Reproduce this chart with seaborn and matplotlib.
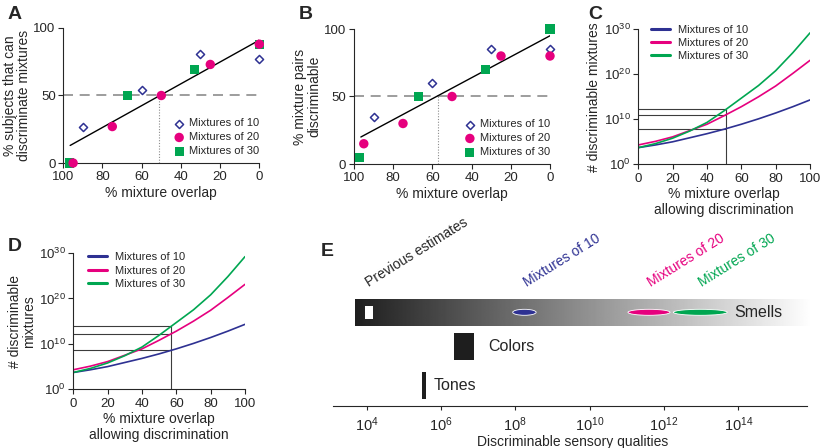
import numpy as np
import matplotlib
matplotlib.use("Agg")
import matplotlib.pyplot as plt
from matplotlib.patches import Ellipse, Rectangle
from matplotlib.ticker import NullLocator
import seaborn as sns

#! ############################ data #############################################

BLUE = "#2e3192"
PINK = "#e6007e"
GREEN = "#00a651"
GREY = "#8c8c8c"

# panel A: % subjects that can discriminate mixtures
a_x10 = [90, 60, 30, 0]
a_y10 = [27, 54, 81, 77]
a_x20 = [95, 75, 50, 25, 0]
a_y20 = [0, 27, 50, 73, 88]
a_x30 = [97, 67, 33, 0]
a_y30 = [0, 50, 69, 88]
a_fit_x = [96.5, 0]
a_fit_y = [13, 91]
a_cut = 51

# panel B: % mixture pairs discriminable
b_x10 = [90, 60, 30, 0]
b_y10 = [35, 60, 85, 85]
b_x20 = [95, 75, 50, 25, 0]
b_y20 = [15, 30, 50, 80, 80]
b_x30 = [97, 67, 33, 0]
b_y30 = [5, 50, 70, 100]
b_fit_x = [96.5, 0]
b_fit_y = [20, 95]
b_cut = 57

# panels C, D: log10(# discriminable mixtures) vs % overlap
overlap = [0, 10, 20, 30, 40, 50, 60, 70, 80, 90, 100]
log_n10 = [3.7, 4.3, 5.0, 5.9, 6.8, 7.8, 8.9, 10.1, 11.4, 12.8, 14.3]
log_n20 = [4.3, 5.1, 6.1, 7.5, 8.9, 10.8, 12.8, 15.0, 17.4, 20.2, 23.1]
log_n30 = [3.7, 4.6, 5.8, 7.4, 9.3, 11.9, 14.7, 17.5, 20.8, 24.8, 29.2]
c_cut = 51
d_cut = 57

# panel E: log10 of discriminable sensory qualities
e_smells = (3.70, 15.97)
e_previous = (3.96, 4.18)
e_colors = (6.35, 6.88)
e_tones = (5.50, 5.59)
e_mix_lo = [7.93, 11.03, 12.25]
e_mix_hi = [8.56, 12.16, 13.70]
e_mix_names = ["Mixtures of 10", "Mixtures of 20", "Mixtures of 30"]
e_ticks = [4, 6, 8, 10, 12, 14]

#! ############################ style #############################################

sns.set_style("ticks")
plt.rcParams["font.family"] = ["Liberation Sans", "DejaVu Sans"]
plt.rcParams["mathtext.fontset"] = "custom"
plt.rcParams["mathtext.rm"] = "Liberation Sans"
plt.rcParams["mathtext.it"] = "Liberation Sans:italic"
plt.rcParams["axes.linewidth"] = 0.8
plt.rcParams["xtick.major.width"] = 0.8
plt.rcParams["ytick.major.width"] = 0.8
plt.rcParams["xtick.major.size"] = 3.5
plt.rcParams["ytick.major.size"] = 3.5
plt.rcParams["xtick.major.pad"] = 2.5
plt.rcParams["ytick.major.pad"] = 2
plt.rcParams["xtick.labelsize"] = 9.5
plt.rcParams["ytick.labelsize"] = 9.5
plt.rcParams["axes.labelsize"] = 10

W, H = 828, 448
fig = plt.figure(figsize=(W / 100, H / 100), dpi=100)


def box(left, top, right, bottom):
    # pixel box -> figure fraction
    return [left / W, 1 - bottom / H, (right - left) / W, (bottom - top) / H]


def overlap_panel(ax, x10, y10, x20, y20, x30, y30, fit_x, fit_y, cut, ylabel):
    ax.axhline(50, color=GREY, lw=1.2, ls=(0, (6, 4)), zorder=1)
    ax.plot([cut, cut], [0, 50], color=GREY, lw=0.8, ls=(0, (1, 1.5)), zorder=1)
    sns.lineplot(x=fit_x, y=fit_y, color="black", lw=1, ax=ax, zorder=2)
    sns.scatterplot(x=x10, y=y10, marker="D", s=17, facecolor="white", edgecolor=BLUE,
                    linewidth=1.1, label="Mixtures of 10", ax=ax, zorder=3, clip_on=False)
    sns.scatterplot(x=x20, y=y20, marker="o", s=46, color=PINK, edgecolor="none",
                    label="Mixtures of 20", ax=ax, zorder=5, clip_on=False)
    sns.scatterplot(x=x30, y=y30, marker="s", s=42, color=GREEN, edgecolor="none",
                    label="Mixtures of 30", ax=ax, zorder=4, clip_on=False)
    ax.set_xlim(100, 0)
    ax.set_ylim(0, 100)
    ax.set_xticks([100, 80, 60, 40, 20, 0])
    ax.set_yticks([0, 50, 100])
    ax.set_xlabel("% mixture overlap", labelpad=2)
    ax.set_ylabel(ylabel, labelpad=2, linespacing=1.0)
    h, l = ax.get_legend_handles_labels()
    ax.legend(h[-3:], l[-3:], loc="lower right", bbox_to_anchor=(1.0, 0.05), frameon=False,
              fontsize=8, borderpad=0, borderaxespad=0, handletextpad=0.3,
              labelspacing=0.35, handlelength=1.2)
    sns.despine(ax=ax)


def count_panel(ax, cut, ylabel, leg_anchor):
    for vals, col, name in [(log_n10, BLUE, "Mixtures of 10"),
                            (log_n20, PINK, "Mixtures of 20"),
                            (log_n30, GREEN, "Mixtures of 30")]:
        sns.lineplot(x=overlap, y=10.0 ** np.array(vals), color=col, lw=1.2, label=name, ax=ax)
    levels = [10.0 ** np.interp(cut, overlap, v) for v in (log_n10, log_n20, log_n30)]
    ax.hlines(levels, 0, cut, color="#3c3c3c", lw=0.8, zorder=1)
    ax.vlines(cut, 1, max(levels), color="#3c3c3c", lw=0.8, zorder=1)
    ax.set_yscale("log")
    ax.set_ylim(1, 1e30)
    ax.set_xlim(0, 100)
    ax.set_yticks([1, 1e10, 1e20, 1e30])
    ax.set_yticklabels(["$10^{0}$", "$10^{10}$", "$10^{20}$", "$10^{30}$"])
    ax.yaxis.set_minor_locator(NullLocator())
    ax.set_xticks([0, 20, 40, 60, 80, 100])
    ax.set_xlabel("% mixture overlap\nallowing discrimination", labelpad=2, linespacing=1.1)
    ax.set_ylabel(ylabel, labelpad=2, linespacing=1.0)
    leg = ax.legend(loc="upper left", bbox_to_anchor=leg_anchor, frameon=False, fontsize=8,
                    borderpad=0, borderaxespad=0, handlelength=1.7, handletextpad=0.7,
                    labelspacing=0.3)
    for line in leg.get_lines():
        line.set_linewidth(2.2)
    sns.despine(ax=ax)


#! ############################ panels A-D #############################################

ax_a = fig.add_axes(box(63.3, 28, 259.3, 163))
overlap_panel(ax_a, a_x10, a_y10, a_x20, a_y20, a_x30, a_y30, a_fit_x, a_fit_y, a_cut,
              "% subjects that can\ndiscriminate mixtures")

ax_b = fig.add_axes(box(354, 29, 550, 164))
overlap_panel(ax_b, b_x10, b_y10, b_x20, b_y20, b_x30, b_y30, b_fit_x, b_fit_y, b_cut,
              "% mixture pairs\ndiscriminable")

ax_c = fig.add_axes(box(638.3, 29.3, 810, 164.3))
count_panel(ax_c, c_cut, "# discriminable mixtures", (0.075, 1.035))

ax_d = fig.add_axes(box(73.3, 253, 245, 389.3))
count_panel(ax_d, d_cut, "# discriminable\nmixtures", (0.085, 1.005))

#! ############################ panel E #############################################

ax_e = fig.add_axes(box(332.7, 229.7, 811.7, 405.7))
ROW_SMELL, ROW_COLOR, ROW_TONE = 93.4, 59.4, 20.0
BAR_H = 27

grad = np.linspace(0.12, 1.0, 512).reshape(1, -1)
ax_e.imshow(grad, cmap="gray", vmin=0, vmax=1, aspect="auto", interpolation="bilinear",
            extent=[e_smells[0], e_smells[1], ROW_SMELL - BAR_H / 2, ROW_SMELL + BAR_H / 2],
            zorder=1, clip_on=False)
ax_e.add_patch(Rectangle((e_previous[0], ROW_SMELL - 6.7), e_previous[1] - e_previous[0], 13.4,
                         facecolor="white", edgecolor="none", zorder=2))
ax_e.add_patch(Rectangle((e_colors[0], ROW_COLOR - BAR_H / 2), e_colors[1] - e_colors[0], BAR_H,
                         facecolor="#1e1e1e", edgecolor="none", zorder=2))
ax_e.add_patch(Rectangle((e_tones[0], ROW_TONE - BAR_H / 2), e_tones[1] - e_tones[0], BAR_H,
                         facecolor="#1e1e1e", edgecolor="none", zorder=2))
for lo, hi, col in zip(e_mix_lo, e_mix_hi, [BLUE, PINK, GREEN]):
    ax_e.add_patch(Ellipse(((lo + hi) / 2, ROW_SMELL), hi - lo, 6, facecolor=col,
                           edgecolor="white", lw=0.6, zorder=3))

ax_e.text(13.9, ROW_SMELL, "Smells", fontsize=11.5, va="center", ha="left")
ax_e.text(7.26, ROW_COLOR, "Colors", fontsize=11.5, va="center", ha="left")
ax_e.text(5.81, ROW_TONE, "Tones", fontsize=11.5, va="center", ha="left")

ax_e.text(e_previous[0] + 0.15, 116, "Previous estimates", fontsize=10, rotation=32,
          rotation_mode="anchor", ha="left", va="bottom")
for lo, hi, col, name in zip(e_mix_lo, e_mix_hi, [BLUE, PINK, GREEN], e_mix_names):
    ax_e.text((lo + hi) / 2 + 0.1, 116, name, fontsize=10, rotation=32, color=col,
              rotation_mode="anchor", ha="left", va="bottom")

ax_e.set_xlim(3.09, 15.97)
ax_e.set_ylim(0, 176)
ax_e.set_yticks([])
ax_e.set_xticks(e_ticks)
ax_e.set_xticklabels([f"$10^{{{t}}}$" for t in e_ticks])
ax_e.tick_params(axis="x", length=3, pad=4, labelsize=10.5)
ax_e.set_xlabel("Discriminable sensory qualities", fontsize=10, labelpad=1)
for side in ["left", "top", "right"]:
    ax_e.spines[side].set_visible(False)
ax_e.spines["bottom"].set_bounds(3.09, 15.84)

#! ############################ panel letters #############################################

for letter, px, py in [("A", 8, 6), ("B", 299, 6), ("C", 588, 6), ("D", 8, 238), ("E", 321, 243)]:
    fig.text(px / W, 1 - py / H, letter, fontsize=14, fontweight="bold", va="top", ha="left")

fig.savefig("out.png", dpi=100)
